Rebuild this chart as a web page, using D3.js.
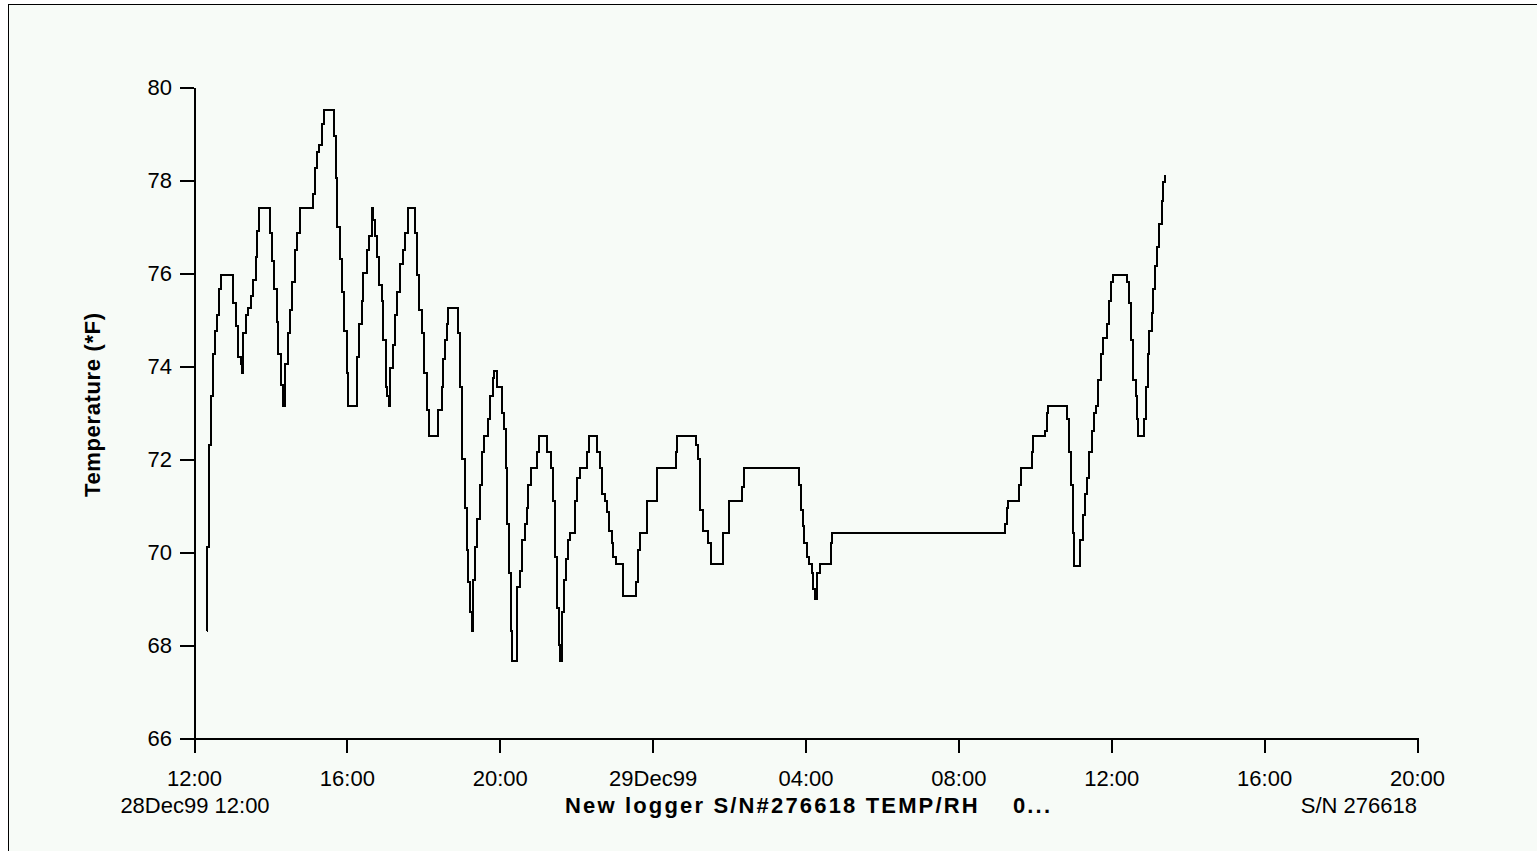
<!DOCTYPE html>
<html>
<head>
<meta charset="utf-8">
<script src="https://cdn.jsdelivr.net/npm/d3@7"></script>
<style>
  html, body { margin: 0; padding: 0; background: #fff; overflow: hidden; }
  svg { display: block; font-family: "Liberation Sans", Arial, sans-serif; }
  .axis path, .axis line { stroke: #000; stroke-width: 2; shape-rendering: crispEdges; }
  .axis text { font-family: "Liberation Sans", Arial, sans-serif; font-size: 22px; fill: #000; }
  .label { font-size: 22px; fill: #000; }
  .bold { font-weight: bold; }
</style>
</head>
<body>
<svg id="chart" width="1537" height="851"></svg>
<script>
// ── Data ────────────────────────────────────────────────────────────────────
// minutes after 28Dec99 12:00, temperature (°F) reached at that moment
const minutesFromStart = [
  20.9, 21.0, 24.0, 26.7, 29.4, 33.0, 36.6, 39.7, 42.9, 61.7, 65.5, 69.6, 73.3, 74.9,
  77.4, 81.2, 85.3, 89.0, 93.1, 96.9, 99.4, 102.5, 119.3, 122.0, 125.6, 129.8, 132.4,
  136.6, 140.2, 142.9, 147.1, 150.7, 154.3, 158.6, 162.2, 166.4, 187.3, 190.0, 192.6,
  196.7, 200.5, 204.1, 219.8, 222.5, 225.0, 229.2, 232.8, 236.0, 239.7, 242.3, 255.4,
  259.1, 263.3, 265.8, 271.1, 274.8, 279.0, 281.5, 284.2, 287.8, 290.9, 294.7, 297.2,
  301.0, 303.5, 306.2, 307.7, 312.0, 315.6, 319.2, 323.4, 327.7, 331.3, 335.5, 347.0,
  350.6, 353.7, 357.5, 361.6, 365.3, 369.4, 383.6, 388.9, 391.4, 394.1, 396.7, 399.3,
  415.0, 417.6, 421.2, 425.5, 428.1, 430.7, 433.3, 436.0,
  438.5, 441.2, 444.8, 449.0, 452.6, 455.3, 462.1, 464.7, 469.0, 471.0, 476.2, 483.1,
  487.2, 489.8, 491.9, 495.0, 497.2, 498.8, 507.6, 511.8, 515.4, 519.7, 522.3, 524.9,
  528.6, 538.0, 541.7, 554.7, 560.0, 564.1, 566.8, 569.4, 573.1, 574.6, 577.3, 580.9,
  583.6, 587.7, 590.3, 598.2, 601.8, 606.0, 617.5, 620.2, 632.2, 637.4, 640.1, 645.3,
  647.9, 651.6, 655.8, 658.3, 662.5, 674.0, 693.9, 697.6, 700.2, 710.7, 726.4, 756.3,
  757.8, 788.1, 791.8, 794.4, 799.6, 807.5, 811.2, 831.0, 840.4, 860.8, 863.5,
  950.3, 953.0, 955.7, 958.2, 961.9, 966.0, 969.8, 972.3, 975.0, 978.6, 982.8, 999.6,
  1002.1, 1273.3, 1275.9, 1278.5, 1295.7, 1297.9, 1316.1, 1317.7, 1336.1, 1338.7,
  1340.3, 1371.1, 1373.8, 1376.9, 1380.5, 1382.1,
  1391.0, 1395.3, 1398.9, 1402.5, 1405.6, 1409.4, 1413.0, 1416.2, 1419.8, 1423.5,
  1426.7, 1432.9, 1437.0, 1439.7, 1443.3, 1464.3, 1468.4, 1471.1, 1474.7, 1478.9,
  1481.0, 1482.6, 1491.5, 1494.2, 1497.3, 1499.8, 1503.6, 1506.1, 1508.8, 1511.4,
  1515.5, 1519.3, 1521.8, 1524.5
];

const tempF = [
  68.3, 70.1, 72.3, 73.35, 74.25, 74.75, 75.1, 75.65, 75.95, 75.35, 74.85, 74.2, 74.05, 73.85,
  74.7, 75.1, 75.25, 75.5, 75.85, 76.35, 76.9, 77.4, 76.85, 76.25, 75.65, 74.95, 74.25,
  73.6, 73.15, 74.05, 74.7, 75.2, 75.8, 76.5, 76.85, 77.4, 77.7, 78.25, 78.6,
  78.75, 79.2, 79.5, 78.95, 78.05, 77.0, 76.3, 75.6, 74.75, 73.85, 73.15, 74.2,
  74.9, 75.4, 76.0, 76.5, 76.8, 77.4, 77.15, 76.8, 76.35, 75.75, 75.4, 74.55,
  73.55, 73.35, 73.15, 73.95, 74.45, 75.1, 75.6, 76.2, 76.5, 76.85, 77.4, 76.85,
  75.95, 75.2, 74.7, 73.85, 73.05, 72.5, 73.05, 73.55, 74.15, 74.55, 74.9, 75.25,
  74.7, 73.55, 72.0, 70.95, 70.05, 69.35, 68.7, 68.3,
  69.4, 70.1, 70.7, 71.45, 72.15, 72.5, 72.85, 73.35, 73.75, 73.9, 73.55, 73.0,
  72.65, 71.8, 70.6, 69.55, 68.3, 67.65, 69.25, 69.6, 70.25, 70.6, 70.95, 71.45,
  71.8, 72.15, 72.5, 72.15, 71.8, 71.1, 69.9, 68.8, 68.0, 67.65, 68.7, 69.4,
  69.85, 70.25, 70.4, 71.1, 71.6, 71.8, 72.15, 72.5, 72.15, 71.8, 71.25, 71.1,
  70.85, 70.45, 70.2, 69.9, 69.75, 69.05, 69.35, 70.05, 70.4, 71.1, 71.8, 72.15,
  72.5, 72.3, 72.0, 70.9, 70.45, 70.2, 69.75, 70.4, 71.1, 71.4, 71.8,
  71.45, 70.9, 70.55, 70.2, 69.9, 69.75, 69.55, 69.2, 69.0, 69.55, 69.75, 70.2,
  70.4, 70.6, 70.95, 71.1, 71.45, 71.8, 72.15, 72.5, 72.6, 73.0,
  73.15, 72.85, 72.15, 71.45, 70.4, 69.7,
  70.25, 70.8, 71.25, 71.6, 72.15, 72.6, 73.0, 73.15, 73.7, 74.25,
  74.6, 74.9, 75.4, 75.8, 75.95, 75.8, 75.35, 74.55, 73.7, 73.35,
  72.85, 72.5, 72.85, 73.55, 74.25, 74.75, 75.15, 75.65, 76.15, 76.55,
  77.05, 77.55, 77.95, 78.1
];

const yTicks = [66, 68, 70, 72, 74, 76, 78, 80];
const startLabel = '28Dec99 12:00';
const chartTitle = 'New logger S/N#276618 TEMP/RH    0...';
const serialLabel = 'S/N 276618';
const yLabel = 'Temperature (*F)';

// ── Layout ──────────────────────────────────────────────────────────────────
const t0 = new Date(1999, 11, 28, 12, 0);
const t1 = new Date(1999, 11, 29, 20, 0);

const svg = d3.select('#chart');

// panel background with the thin frame at top/left
svg.append('rect')
  .attr('x', 8.5).attr('y', 4.5)
  .attr('width', 1600).attr('height', 900)
  .attr('fill', '#f7fbf7')
  .attr('stroke', '#000')
  .attr('stroke-width', 1)
  .style('shape-rendering', 'crispEdges');

const xScale = d3.scaleTime().domain([t0, t1]).range([194, 1417]);
const yScale = d3.scaleLinear().domain([66, 80]).range([738, 87]);

const points = minutesFromStart.map((m, i) => ({
  t: new Date(t0.getTime() + m * 60000),
  v: tempF[i]
}));

// ── Axes ────────────────────────────────────────────────────────────────────
const fmtTick = d => d.getHours() === 0
  ? d3.timeFormat('%d%b%y')(d)
  : d3.timeFormat('%H:%M')(d);

svg.append('g')
  .attr('class', 'axis')
  .attr('transform', 'translate(194,0)')
  .call(d3.axisLeft(yScale).tickValues(yTicks).tickSize(14).tickSizeOuter(0).tickPadding(8));

svg.append('g')
  .attr('class', 'axis')
  .attr('transform', 'translate(0,738)')
  .call(d3.axisBottom(xScale).ticks(d3.timeHour.every(4)).tickFormat(fmtTick)
    .tickSize(15).tickSizeOuter(0).tickPadding(17));

// ── Series ──────────────────────────────────────────────────────────────────
const line = d3.line()
  .x(d => xScale(d.t))
  .y(d => yScale(d.v))
  .curve(d3.curveStepAfter);

svg.append('path')
  .datum(points)
  .attr('d', line)
  .attr('fill', 'none')
  .attr('stroke', '#000')
  .attr('stroke-width', 2)
  .style('shape-rendering', 'crispEdges');

// ── Labels ──────────────────────────────────────────────────────────────────
svg.append('text')
  .attr('class', 'label')
  .attr('x', xScale(t0) + 1).attr('y', 813)
  .attr('text-anchor', 'middle')
  .text(startLabel);

svg.append('text')
  .attr('class', 'label bold')
  .attr('x', 565).attr('y', 813)
  .attr('textLength', 485)
  .attr('lengthAdjust', 'spacing')
  .style('white-space', 'pre')
  .text(chartTitle);

svg.append('text')
  .attr('class', 'label')
  .attr('x', 1417).attr('y', 813)
  .attr('text-anchor', 'end')
  .text(serialLabel);

svg.append('text')
  .attr('class', 'label bold')
  .attr('transform', 'translate(100,405) rotate(-90)')
  .attr('text-anchor', 'middle')
  .attr('textLength', 184)
  .attr('lengthAdjust', 'spacing')
  .text(yLabel);
</script>
</body>
</html>
